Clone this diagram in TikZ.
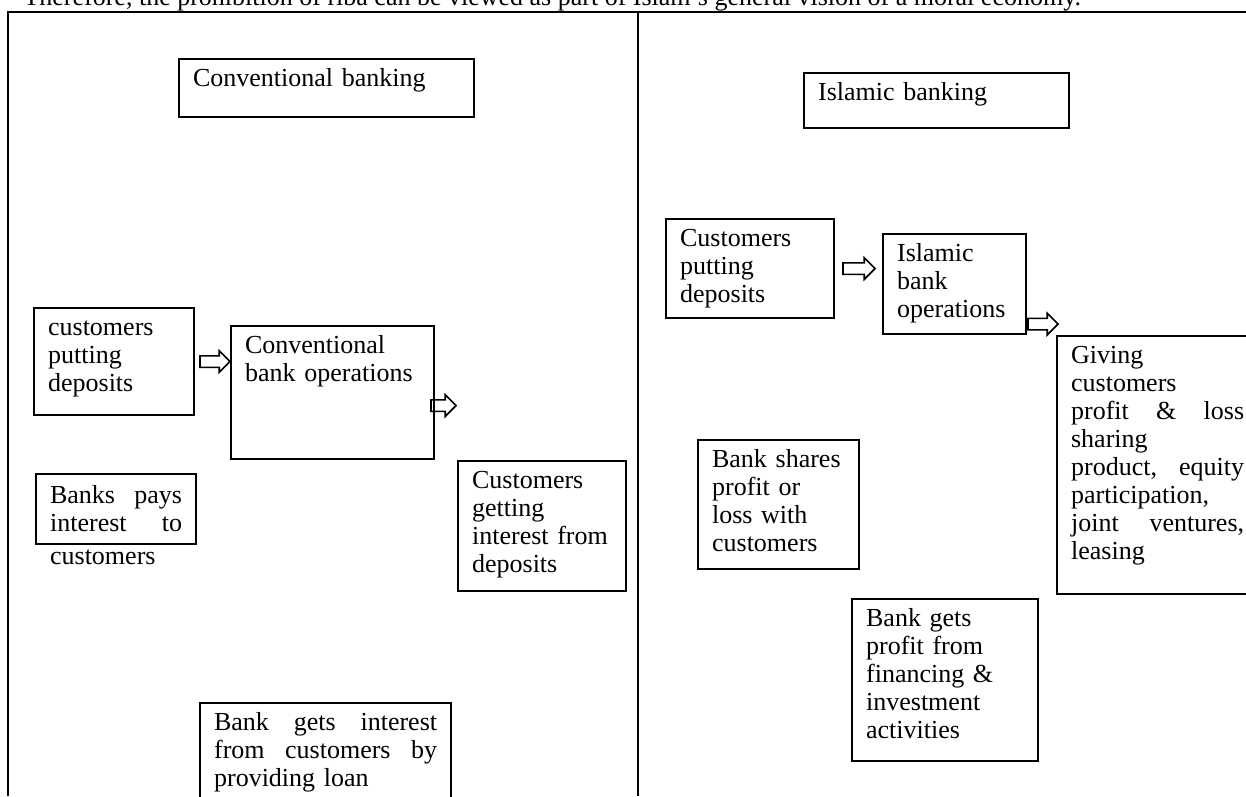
\documentclass[tikz,border=0pt]{standalone}
\usepackage{fontspec}
\setmainfont{Liberation Serif}
\usetikzlibrary{positioning,shapes.arrows}

\begin{document}
\begin{tikzpicture} [
		x=1pt, y=-1pt,
		every node/.style={font=\fontsize{26}{28}\selectfont},
		box/.style 2 args={draw, line width=2.2pt, anchor=north west, align=left, inner xsep=14pt, inner ysep=0pt, text width=#1, text height=27pt, text depth=#2},
		blockarrow/.style={single arrow, draw, line width=1.6pt, inner sep=0pt, text height=5pt, text depth=5pt, single arrow head extend=5pt, minimum height=#1},
		frame/.style={line width=2pt}
	]
	\clip (0,0) rectangle (1246,796);
	\node[anchor=base west] (intro) at (20,5) {Therefore, the prohibition of riba can be viewed as part of Islam's general vision of a moral economy.};
	\draw[frame] (8,796) -- (8,12) -- (1246,12);
	\draw[frame] (638,12) -- (638,796);

	\node[box={267pt}{31pt}] (ctitle) at (178,58) {Conventional banking};
	\node[box={132pt}{80pt}] (ccust) at (33,307) {customers\\putting\\deposits};
	\node[box={175pt}{106pt}] (cops) at (230,325) {Conventional\\bank operations};
	\node[box={140pt}{103pt}] (cget) at (457,460) {Customers\\getting\\interest from\\deposits};
	\node[box={132pt}{41pt}, text height=29pt] (cpay) at (35,473) {Banks\hfill pays\\interest\hfill to\\[5pt]customers};
	\node[box={223pt}{103pt}] (cloan) at (199,702) {Bank\hfill gets\hfill interest\\from\hfill customers\hfill by\\providing loan};
	\node[blockarrow=30pt, right=4pt of ccust] (larr1) {};
	\node[blockarrow=25pt, anchor=west] (larr2) at ([xshift=-5pt, yshift=-13pt]cops.east) {};

	\node[box={237pt}{28pt}] (ititle) at (803,72) {Islamic banking};
	\node[box={140pt}{72pt}] (icust) at (665,218) {Customers\\putting\\deposits};
	\node[box={115pt}{73pt}] (iops) at (882,233) {Islamic\\bank\\operations};
	\node[box={173pt}{231pt}] (igive) at (1056,335) {Giving\\customers\\profit\hfill\&\hfill loss\\sharing\\product,\hfill equity\\participation,\\joint\hfill ventures,\\leasing};
	\node[box={133pt}{102pt}] (ishare) at (697,439) {Bank shares\\profit or\\loss with\\customers};
	\node[box={158pt}{135pt}] (iprofit) at (851,598) {Bank gets\\profit from\\financing \&\\investment\\activities};
	\node[blockarrow=32pt, right=7pt of icust] (rarr1) {};
	\node[blockarrow=30pt, anchor=west] (rarr2) at ([yshift=-40pt]iops.east) {};
\end{tikzpicture}
\end{document}
